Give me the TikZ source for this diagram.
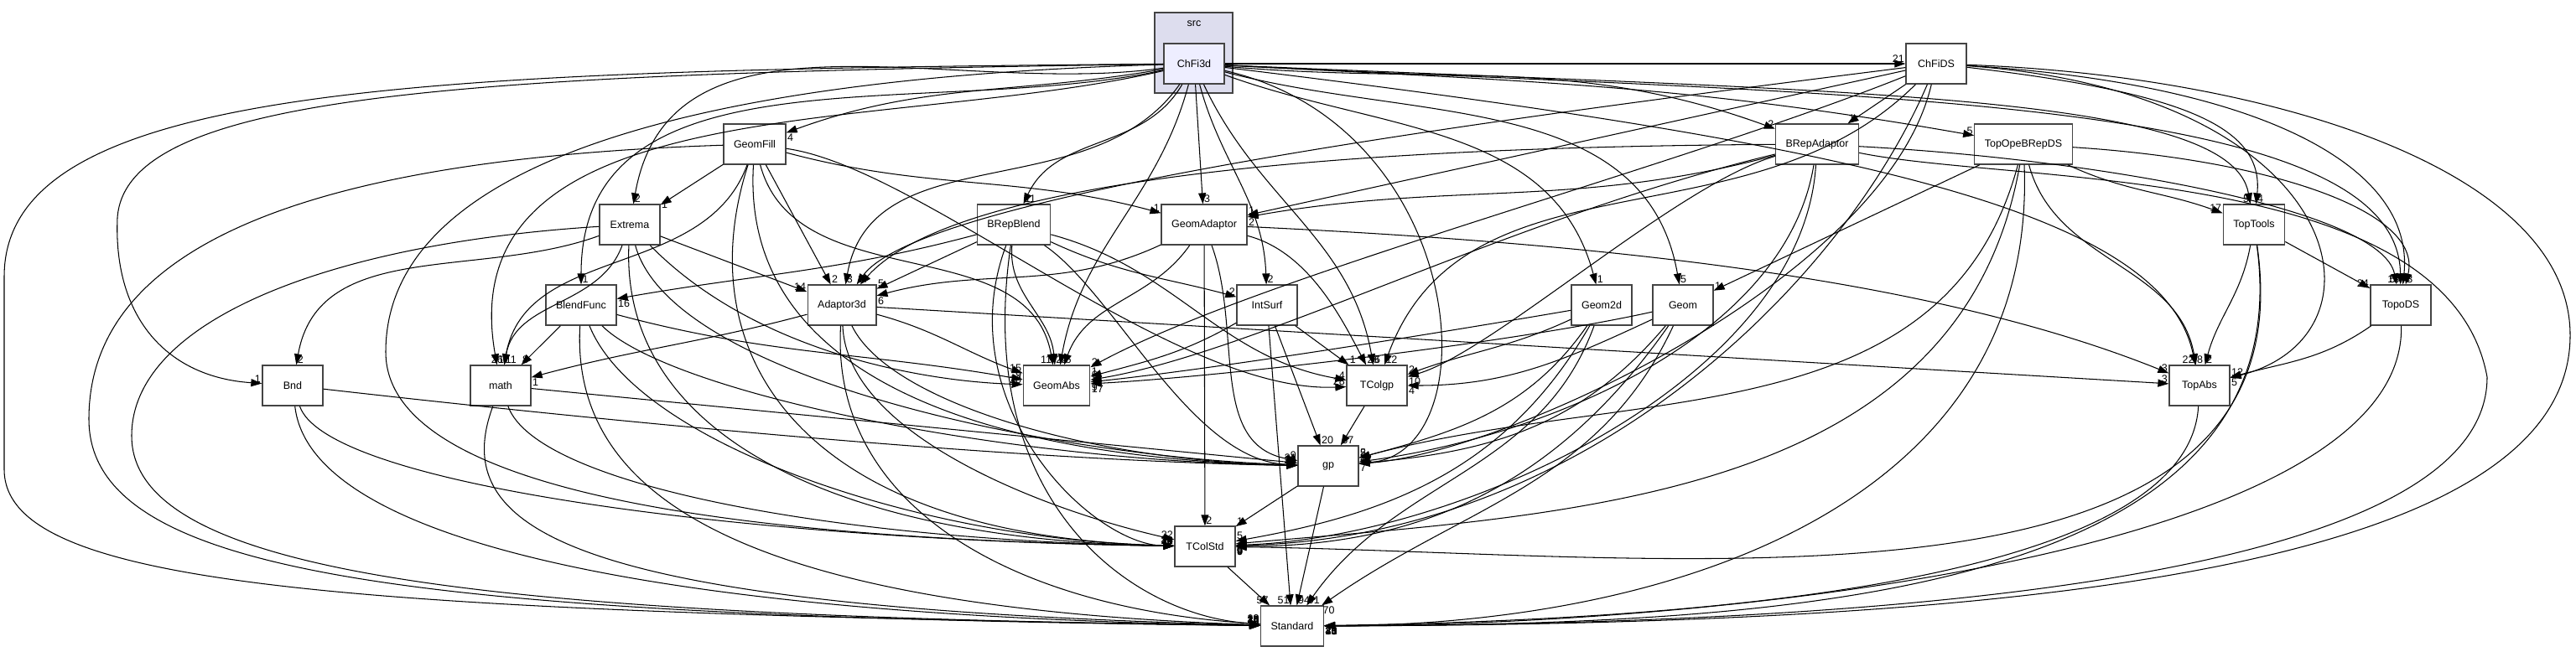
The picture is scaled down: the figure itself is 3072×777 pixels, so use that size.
\documentclass[tikz,border=0pt]{standalone}
\usepackage{fontspec}
\setmainfont{Liberation Sans}
\usepackage{tikz}
\usetikzlibrary{arrows.meta, positioning, calc}
\tikzset{every node/.style={font=\fontsize{12.5}{14}\selectfont}}
\usepackage{xcolor}
\definecolor{boxgray}{HTML}{444444}
\definecolor{clusterfill}{HTML}{DDDDEE}
\definecolor{mainfill}{HTML}{EEEEFF}

\begin{document}
\begin{tikzpicture}[x=1pt, y=-1pt,
    dirbox/.style={draw=boxgray, line width=1.3pt, fill=white, minimum width=72pt, minimum height=48pt, inner xsep=12pt},
    mainbox/.style={dirbox, fill=mainfill},
    srcbox/.style={draw=boxgray, line width=1.3pt, fill=clusterfill, minimum width=93pt, minimum height=96pt},
    dep/.style={line width=1.05pt, -{Triangle[length=13pt,width=9pt]}},
    tag/.style={font=\fontsize{12.5}{12}\selectfont, inner sep=1pt, pos=1},
    tagr/.style={tag, anchor=south west},
    tagl/.style={tag, anchor=south east},
    tagd/.style={tag, anchor=north west}]
  \useasboundingbox (0,0) rectangle (3072,777);

  \node[srcbox] (srcdir) at (1423.5,63) {};
  \node (srclbl) at (1424,28) {src};
  \node[mainbox] (c3) at (1424,76) {ChFi3d};
  \node[dirbox] (cds) at (2309,76) {ChFiDS};
  \node[dirbox] (gfill) at (900,172) {GeomFill};
  \node[dirbox] (brepad) at (2167,172) {BRepAdaptor};
  \node[dirbox] (topope) at (2413,172) {TopOpeBRepDS};
  \node[dirbox] (extr) at (751,268) {Extrema};
  \node[dirbox] (bblend) at (1209,268) {BRepBlend};
  \node[dirbox] (gad) at (1436,268) {GeomAdaptor};
  \node[dirbox] (ttools) at (2688,268) {TopTools};
  \node[dirbox] (bfunc) at (693,364) {BlendFunc};
  \node[dirbox] (a3d) at (1004,364) {Adaptor3d};
  \node[dirbox] (isurf) at (1511,364) {IntSurf};
  \node[dirbox] (g2d) at (1910,364) {Geom2d};
  \node[dirbox] (geom) at (2007,364) {Geom};
  \node[dirbox] (tds) at (2863,364) {TopoDS};
  \node[dirbox] (bnd) at (349,460) {Bnd};
  \node[dirbox] (math) at (597,460) {math};
  \node[dirbox] (gabs) at (1260,460) {GeomAbs};
  \node[dirbox] (tcgp) at (1642,460) {TColgp};
  \node[dirbox] (tabs) at (2623,460) {TopAbs};
  \node[dirbox] (gp) at (1584,556) {gp};
  \node[dirbox] (tcstd) at (1437,652) {TColStd};
  \node[dirbox] (std) at (1541,747) {Standard};

  \draw[dep] (c3) -- node[tagl] {21} (cds);
  \draw[dep] (c3) to[out=190,in=20] node[tagd] {4} (gfill);
  \draw[dep] (c3) to[out=188,in=80] node[tagr] {2} (extr);
  \draw[dep] (c3) to[out=192,in=90] node[tagr] {1} (bfunc);
  \draw[dep] (c3) .. controls (560,88) and (150,110) .. (140,260) .. controls (135,380) and (200,450) .. (bnd) node[tagl] {1};
  \draw[dep] (c3) .. controls (500,84) and (5,100) .. (5,330) -- (5,560) .. controls (5,700) and (400,730) .. (std) node[tagl] {26};
  \draw[dep] (c3) .. controls (750,95) and (460,220) .. (460,420) .. controls (460,610) and (1000,645) .. (tcstd) node[tagl] {16};
  \draw[dep] (c3) to[out=193,in=100] node[tagr] {17} (math);
  \draw[dep] (c3) to[out=235,in=80] node[tagr] {3} (a3d);
  \draw[dep] (c3) to[out=240,in=65] node[tagr] {11} (bblend);
  \draw[dep] (c3) to[out=255,in=80] node[tagr] {2} (gabs);
  \draw[dep] (c3) -- node[tagr] {3} (gad);
  \draw[dep] (c3) to[out=285,in=92] node[tagr] {2} (isurf);
  \draw[dep] (c3) .. controls (1750,150) and (1780,540) .. (gp) node[tagr] {12};
  \draw[dep] (c3) to[out=295,in=100] node[tagr] {6} (tcgp);
  \draw[dep] (c3) to[out=-20,in=105] node[tagr] {1} (g2d);
  \draw[dep] (c3) to[out=-15,in=100] node[tagr] {5} (geom);
  \draw[dep] (c3) to[out=-5,in=160] node[tagl] {2} (brepad);
  \draw[dep] (c3) to[out=-3,in=170] node[tagl] {5} (topope);
  \draw[dep] (c3) .. controls (2200,110) and (2660,110) .. (ttools) node[tagl] {5};
  \draw[dep] (c3) .. controls (2200,115) and (2860,110) .. (tds) node[tagl] {13};
  \draw[dep] (c3) .. controls (2200,170) and (2580,250) .. (tabs) node[tagl] {22};

  \draw[dep] (cds) -- node[tagr] {1} (brepad);
  \draw[dep] (cds) -- node[tagr] {1} (gad);
  \draw[dep] (cds) .. controls (1800,140) and (1100,230) .. (a3d) node[tagr] {2};
  \draw[dep] (cds) .. controls (2000,200) and (1500,330) .. (gabs) node[tagr] {2};
  \draw[dep] (cds) to[out=225,in=70] node[tagr] {12} (tcgp);
  \draw[dep] (cds) .. controls (2250,330) and (1800,540) .. (gp) node[tagr] {3};
  \draw[dep] (cds) .. controls (2200,330) and (1900,640) .. (tcstd) node[tagd] {5};
  \draw[dep] (cds) .. controls (2600,110) and (2700,150) .. (ttools) node[tagr] {4};
  \draw[dep] (cds) .. controls (2700,100) and (2880,200) .. (tds) node[tagr] {4};
  \draw[dep] (cds) .. controls (2800,110) and (2860,400) .. (tabs) node[tagd] {5};
  \draw[dep] (cds) .. controls (2700,90) and (3065,200) .. (3065,400) .. controls (3065,700) and (2300,745) .. (std) node[tagd] {48};

  \draw[dep] (gfill) -- node[tag, anchor=west] {1} (extr);
  \draw[dep] (gfill) to[out=-15,in=165] node[tagl] {1} (gad);
  \draw[dep] (gfill) -- node[tagr] {2} (a3d);
  \draw[dep] (gfill) to[out=250,in=80] node[tagl] {26} (math);
  \draw[dep] (gfill) to[out=285,in=100] node[tagl] {11} (gabs);
  \draw[dep] (gfill) .. controls (1100,200) and (1400,470) .. (tcgp) node[tagl] {28};
  \draw[dep] (gfill) .. controls (880,500) and (1300,550) .. (gp) node[tagl] {12};
  \draw[dep] (gfill) .. controls (820,420) and (950,640) .. (tcstd) node[tagl] {20};
  \draw[dep] (gfill) .. controls (350,190) and (106,300) .. (106,500) .. controls (106,690) and (500,735) .. (std) node[tagl] {10};

  \draw[dep] (extr) -- node[tagl] {14} (a3d);
  \draw[dep] (extr) to[out=200,in=80] node[tagr] {2} (bnd);
  \draw[dep] (extr) to[out=250,in=80] node[tagr] {11} (math);
  \draw[dep] (extr) .. controls (900,420) and (1100,455) .. (gabs) node[tagl] {20};
  \draw[dep] (extr) .. controls (800,450) and (1250,545) .. (gp) node[tagl] {35};
  \draw[dep] (extr) .. controls (740,520) and (1000,645) .. (tcstd) node[tagl] {22};
  \draw[dep] (extr) .. controls (400,290) and (157,380) .. (157,520) .. controls (157,690) and (600,735) .. (std) node[tagl] {40};

  \draw[dep] (bblend) to[out=195,in=10] node[tagd] {16} (bfunc);
  \draw[dep] (bblend) -- node[tagr] {5} (a3d);
  \draw[dep] (bblend) to[out=-25,in=165] node[tagl] {2} (isurf);
  \draw[dep] (bblend) to[out=265,in=95] node[tagr] {2} (gabs);
  \draw[dep] (bblend) to[out=-15,in=170] node[tagl] {4} (tcgp);
  \draw[dep] (bblend) .. controls (1330,350) and (1420,550) .. (gp) node[tagl] {13};
  \draw[dep] (bblend) .. controls (1130,480) and (1300,650) .. (tcstd) node[tagl] {44};
  \draw[dep] (bblend) .. controls (1160,600) and (1350,735) .. (std) node[tagl] {19};

  \draw[dep] (gad) to[out=205,in=15] node[tagd] {6} (a3d);
  \draw[dep] (gad) -- node[tagr] {2} (tcstd);
  \draw[dep] (gad) to[out=235,in=70] node[tagr] {6} (gabs);
  \draw[dep] (gad) .. controls (1560,300) and (1600,380) .. (tcgp) node[tagr] {28};
  \draw[dep] (gad) to[out=290,in=170] node[tagl] {9} (gp);
  \draw[dep] (gad) .. controls (1900,290) and (2300,330) .. (tabs) node[tagl] {3};

  \draw[dep] (bfunc) -- node[tagr] {8} (math);
  \draw[dep] (bfunc) to[out=-15,in=170] node[tagl] {9} (gabs);
  \draw[dep] (bfunc) .. controls (800,470) and (1200,550) .. (gp) node[tagl] {24};
  \draw[dep] (bfunc) .. controls (760,530) and (1100,645) .. (tcstd) node[tagl] {31};
  \draw[dep] (bfunc) .. controls (680,600) and (900,725) .. (std) node[tagl] {30};

  \draw[dep] (a3d) to[out=195,in=15] node[tagd] {1} (math);
  \draw[dep] (a3d) to[out=-15,in=160] node[tagl] {15} (gabs);
  \draw[dep] (a3d) .. controls (1060,480) and (1300,550) .. (gp) node[tagl] {30};
  \draw[dep] (a3d) .. controls (1010,520) and (1250,610) .. (tcstd) node[tagl] {22};
  \draw[dep] (a3d) .. controls (990,600) and (1200,725) .. (std) node[tagl] {28};
  \draw[dep] (a3d) -- node[tagl] {3} (tabs);

  \draw[dep] (isurf) -- node[tagr] {1} (tcgp);
  \draw[dep] (isurf) to[out=210,in=15] node[tagr] {1} (gabs);
  \draw[dep] (isurf) -- node[tagr] {20} (gp);
  \draw[dep] (isurf) -- node[tagl] {51} (std);

  \draw[dep] (g2d) .. controls (1700,400) and (1450,440) .. (gabs) node[tagd] {9};
  \draw[dep] (g2d) to[out=205,in=20] node[tagr] {2} (tcgp);
  \draw[dep] (g2d) to[out=235,in=15] node[tagr] {2} (gp);
  \draw[dep] (g2d) to[out=240,in=10] node[tagr] {5} (tcstd);
  \draw[dep] (g2d) to[out=250,in=55] node[tagr] {91} (std);

  \draw[dep] (geom) .. controls (1800,410) and (1450,450) .. (gabs) node[tagd] {17};
  \draw[dep] (geom) to[out=205,in=0] node[tagd] {4} (tcgp);
  \draw[dep] (geom) to[out=230,in=5] node[tagd] {7} (gp);
  \draw[dep] (geom) to[out=235,in=0] node[tagd] {9} (tcstd);
  \draw[dep] (geom) to[out=245,in=35] node[tagd] {70} (std);

  \draw[dep] (brepad) to[out=195,in=10] node[tagd] {2} (gad);
  \draw[dep] (brepad) .. controls (1700,175) and (1150,200) .. (a3d) node[tagr] {4};
  \draw[dep] (brepad) .. controls (1800,260) and (1500,420) .. (gabs) node[tagr] {6};
  \draw[dep] (brepad) .. controls (2000,220) and (1780,420) .. (tcgp) node[tagd] {10};
  \draw[dep] (brepad) .. controls (2130,400) and (1850,520) .. (gp) node[tagr] {2};
  \draw[dep] (brepad) .. controls (2150,450) and (1750,640) .. (tcstd) node[tagd] {6};
  \draw[dep] (brepad) .. controls (2500,190) and (2840,250) .. (tds) node[tagl] {5};
  \draw[dep] (brepad) .. controls (2400,220) and (2920,195) .. (2966,450) .. controls (2966,700) and (2200,745) .. (std) node[tagd] {23};

  \draw[dep] (topope) -- node[tagr] {1} (geom);
  \draw[dep] (topope) to[out=-25,in=160] node[tagl] {17} (ttools);
  \draw[dep] (topope) .. controls (2700,190) and (2890,250) .. (tds) node[tagr] {3};
  \draw[dep] (topope) to[out=285,in=100] node[tagr] {8} (tabs);
  \draw[dep] (topope) to[out=255,in=15] node[tagr] {5} (gp);
  \draw[dep] (topope) to[out=260,in=5] node[tagd] {6} (tcstd);
  \draw[dep] (topope) .. controls (2430,600) and (2000,745) .. (std) node[tagd] {30};

  \draw[dep] (ttools) -- node[tagl] {24} (tds);
  \draw[dep] (ttools) to[out=260,in=75] node[tagr] {2} (tabs);
  \draw[dep] (ttools) .. controls (2760,760) and (2000,660) .. (tcstd) node[tagd] {6};
  \draw[dep] (ttools) .. controls (2750,720) and (2100,745) .. (std) node[tagd] {41};

  \draw[dep] (tds) to[out=215,in=15] node[tagr] {12} (tabs);
  \draw[dep] (tds) .. controls (2870,650) and (2100,745) .. (std) node[tagd] {35};
  \draw[dep] (tabs) .. controls (2610,700) and (2000,740) .. (std) node[tagd] {29};

  \draw[dep] (bnd) .. controls (700,500) and (1200,550) .. (gp) node[tagl] {15};
  \draw[dep] (bnd) .. controls (390,580) and (900,645) .. (tcstd) node[tagl] {8};
  \draw[dep] (bnd) .. controls (370,650) and (800,735) .. (std) node[tagl] {12};
  \draw[dep] (math) -- node[tagl] {31} (gp);
  \draw[dep] (math) .. controls (640,580) and (1000,645) .. (tcstd) node[tagl] {19};
  \draw[dep] (math) .. controls (530,640) and (700,725) .. (std) node[tagl] {34};

  \draw[dep] (tcgp) -- node[tagr] {57} (gp);
  \draw[dep] (gp) -- node[tagr] {1} (tcstd);
  \draw[dep] (gp) -- node[tagr] {94} (std);
  \draw[dep] (tcstd) -- node[tagl] {57} (std);
\end{tikzpicture}
\end{document}
